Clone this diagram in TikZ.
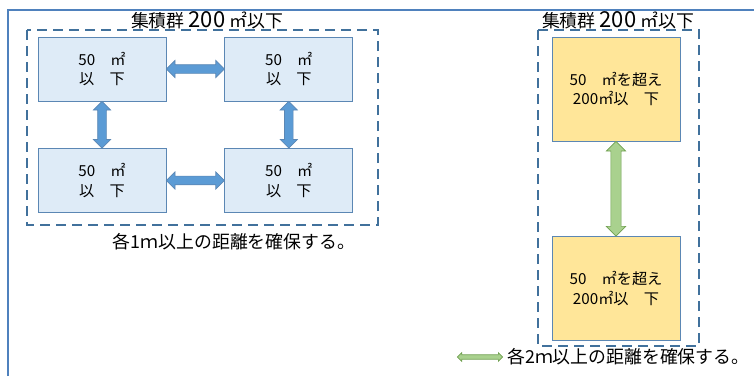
\documentclass[tikz,border=0pt]{standalone}
\usepackage{fontspec}
\setmainfont{Noto Sans CJK JP}
\usetikzlibrary{positioning,shapes.arrows,calc}
\definecolor{framebl}{RGB}{79,129,189}
\definecolor{dashbl}{RGB}{65,113,156}
\definecolor{smallfill}{RGB}{222,235,247}
\definecolor{bigfill}{RGB}{255,230,153}
\definecolor{boxline}{RGB}{91,135,180}
\definecolor{bluearrow}{RGB}{91,155,213}
\definecolor{greenarrow}{RGB}{169,209,142}
\definecolor{greenline}{RGB}{112,160,80}

\tikzset{
  smallbox/.style={draw=boxline, fill=smallfill, line width=0.6pt,
    minimum width=96pt, minimum height=48pt, align=center,
    font=\fontsize{11.4pt}{14.5pt}\selectfont},
  bigbox/.style={draw=boxline, fill=bigfill, line width=0.6pt,
    minimum width=96pt, minimum height=78pt, align=center,
    font=\fontsize{11.4pt}{14.5pt}\selectfont},
  groupline/.style={draw=dashbl, line width=1.5pt, dash pattern=on 7.5pt off 4.5pt},
  bluegap/.style={shape=double arrow, draw=boxline, fill=bluearrow, line width=0.5pt,
    inner sep=0pt, inner ysep=3pt, double arrow head extend=3.2pt,
    double arrow head indent=0pt},
  greengap/.style={shape=double arrow, draw=greenline, fill=greenarrow, line width=0.5pt,
    inner sep=0pt, inner ysep=3.6pt, double arrow head extend=3.4pt,
    double arrow head indent=0pt},
  grouptitle/.style={font=\fontsize{13.4pt}{15pt}\selectfont, inner sep=0pt},
  note/.style={font=\fontsize{13.4pt}{15pt}\selectfont, inner sep=0pt}
}

\begin{document}
\begin{tikzpicture}[x=0.75pt, y=-0.75pt]
  \useasboundingbox (0,0) rectangle (754,376);

  % outer frame
  \draw[framebl, line width=1.1pt] (8,376) |- (754,10);

  % group of small stores
  \node[smallbox] (tl) at (102,69) {50\quad ㎡\\以\quad 下};
  \node[smallbox, right=43.5pt of tl] (tr) {50\quad ㎡\\以\quad 下};
  \node[smallbox, below=35pt of tl] (bl) {50\quad ㎡\\以\quad 下};
  \node[smallbox, below=35pt of tr] (br) {50\quad ㎡\\以\quad 下};

  \node[bluegap, minimum height=43.5pt] (gtop) at ($(tl.east)!0.5!(tr.west)$) {};
  \node[bluegap, minimum height=43.5pt] (gbot) at ($(bl.east)!0.5!(br.west)$) {};
  \node[bluegap, minimum height=35pt, rotate=90] (gleft) at ($(tl.south)!0.5!(bl.north)$) {};
  \node[bluegap, minimum height=35pt, rotate=90] (gright) at ($(tr.south)!0.5!(br.north)$) {};

  \draw[groupline] (27,30) rectangle (378,225);
  \node[grouptitle] (ttl1) at (207,20) {集積群 {\fontsize{16.5pt}{16pt}\selectfont 200} ㎡以下};
  \node[note] (note1) at (234,242) {各1ｍ以上の距離を確保する。};

  % group of larger stores
  \node[bigbox] (top) at (616,89) {50\quad ㎡を超え\\200㎡以\quad 下};
  \node[bigbox, below=71pt of top] (bot) {50\quad ㎡を超え\\200㎡以\quad 下};
  \node[greengap, minimum height=71pt, rotate=90] (gmid) at ($(top.south)!0.5!(bot.north)$) {};

  \draw[groupline] (538,30) rectangle (699,346);
  \node[grouptitle] (ttl2) at (618,20) {集積群 {\fontsize{16.5pt}{16pt}\selectfont 200} ㎡以下};

  % legend
  \node[greengap, minimum height=34pt, inner ysep=1.4pt, double arrow head extend=1.6pt] (key) at (480,357) {};
  \node[note, anchor=west] (note2) at (507,357) {各2ｍ以上の距離を確保する。};
\end{tikzpicture}
\end{document}
